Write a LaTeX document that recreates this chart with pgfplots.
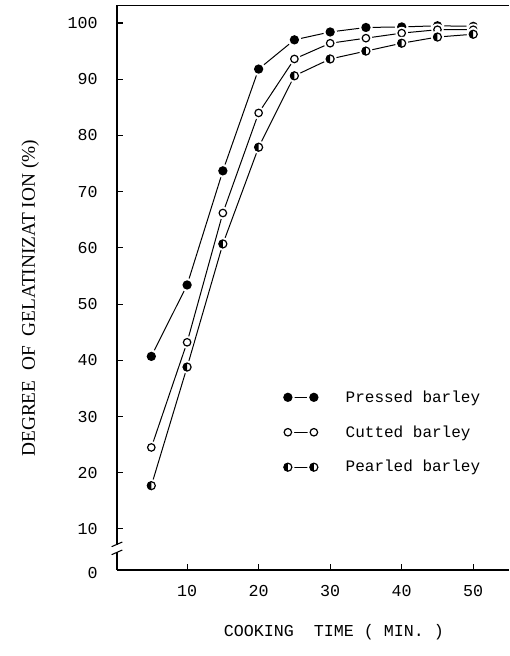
\documentclass[border=0pt]{standalone}
\usepackage{fontspec}
\setmainfont{Liberation Serif}
\setmonofont{Liberation Mono}
\usepackage{pgfplots}
\pgfplotsset{compat=1.18}

% marks with a white halo so the joining lines stop short of the dots
\pgfdeclareplotmark{pressed}{%
  \pgfpathcircle{\pgfpointorigin}{\pgfplotmarksize+1.6pt}%
  \pgfsetfillcolor{white}\pgfusepath{fill}%
  \pgfpathcircle{\pgfpointorigin}{\pgfplotmarksize}%
  \pgfsetfillcolor{black}\pgfusepath{fill}}
\pgfdeclareplotmark{cutted}{%
  \pgfpathcircle{\pgfpointorigin}{\pgfplotmarksize+1.6pt}%
  \pgfsetfillcolor{white}\pgfusepath{fill}%
  \pgfsetlinewidth{0.9pt}%
  \pgfpathcircle{\pgfpointorigin}{\pgfplotmarksize-0.3pt}%
  \pgfusepath{draw}}
\pgfdeclareplotmark{pearled}{%
  \pgfpathcircle{\pgfpointorigin}{\pgfplotmarksize+1.6pt}%
  \pgfsetfillcolor{white}\pgfusepath{fill}%
  \pgfsetfillcolor{black}%
  \pgfpathmoveto{\pgfqpoint{0pt}{\pgfplotmarksize}}%
  \pgfpatharc{90}{270}{\pgfplotmarksize}%
  \pgfpathclose\pgfusepath{fill}%
  \pgfsetlinewidth{0.9pt}%
  \pgfpathcircle{\pgfpointorigin}{\pgfplotmarksize-0.3pt}%
  \pgfusepath{draw}}

\begin{document}
\begin{tikzpicture}
\begin{axis}[
  scale only axis,
  width=294pt, height=423.75pt,
  xmin=0.2, xmax=55,
  ymin=2.7, ymax=103.2,
  clip=false,
  axis lines=left,
  axis line style={-, line width=1pt},
  xtick={10,20,30,40,50},
  ytick={10,20,30,40,50,60,70,80,90,100},
  tick align=inside,
  major tick length=4.5pt,
  tick style={line width=0.8pt, black},
  extra y ticks={2.7},
  extra y tick labels={0},
  extra y tick style={major tick length=0pt, yticklabel style={yshift=-2pt}},
  /pgf/number format/assume math mode=true,
  ticklabel style={font=\ttfamily\fontsize{12.5}{13}\selectfont},
  yticklabel style={xshift=-11pt},
  xticklabel style={yshift=-8pt},
  every axis x label/.style={at={(axis description cs:0.553,0)}, anchor=center, yshift=-47pt},
  every axis y label/.style={at={([xshift=-65pt]axis description cs:0,0.481)}, anchor=center, rotate=90},
  xlabel={\ttfamily\fontsize{12.5}{13}\selectfont COOKING\ \ TIME ( MIN. )},
  ylabel={\fontsize{14.5}{16}\selectfont DEGREE\ \ OF\ \ GELATINIZAT ION (\%)},
  legend image code/.code={\draw[#1, mark repeat=1] plot coordinates {(0pt,0pt) (19.5pt,0pt)}; \path (41pt,0pt);},
  legend style={draw=none, fill=none, inner sep=0pt,
    at={(axis cs:23.1,27.2)}, anchor=west,
    font=\ttfamily\fontsize{12}{13}\selectfont,
    row sep=12pt},
  legend cell align=left,
]
\addplot[black, line width=0.75pt, mark=pressed, mark size=3.5pt]
  coordinates {(5,40.7)(10,53.4)(15,73.7)(20,91.8)(25,97.0)(30,98.4)(35,99.2)(40,99.3)(45,99.5)(50,99.4)};
\addlegendentry{Pressed barley}
\addplot[black, line width=0.75pt, mark=cutted, mark size=3.1pt]
  coordinates {(5,24.5)(10,43.2)(15,66.2)(20,84.0)(25,93.6)(30,96.4)(35,97.3)(40,98.2)(45,98.8)(50,98.8)};
\addlegendentry{Cutted barley}
\addplot[black, line width=0.75pt, mark=pearled, mark size=3.3pt]
  coordinates {(5,17.7)(10,38.8)(15,60.7)(20,77.9)(25,90.6)(30,93.6)(35,95.0)(40,96.4)(45,97.5)(50,98.0)};
\addlegendentry{Pearled barley}
\end{axis}
% left spine and frame line along the top
\draw[line width=1.1pt, black] (0pt,0pt) -- (0pt,423.5pt) -- (294pt,423.5pt);
% axis break on the y axis
\fill[white] (-2pt,13.5pt) rectangle (2pt,18.5pt);
\draw[line width=0.8pt] (-4pt,11.5pt) -- (4pt,15pt);
\draw[line width=0.8pt] (-4pt,17.5pt) -- (4pt,21pt);
\useasboundingbox (-87.75pt,-64.5pt) rectangle (294pt,427.5pt);
\end{tikzpicture}
\end{document}
